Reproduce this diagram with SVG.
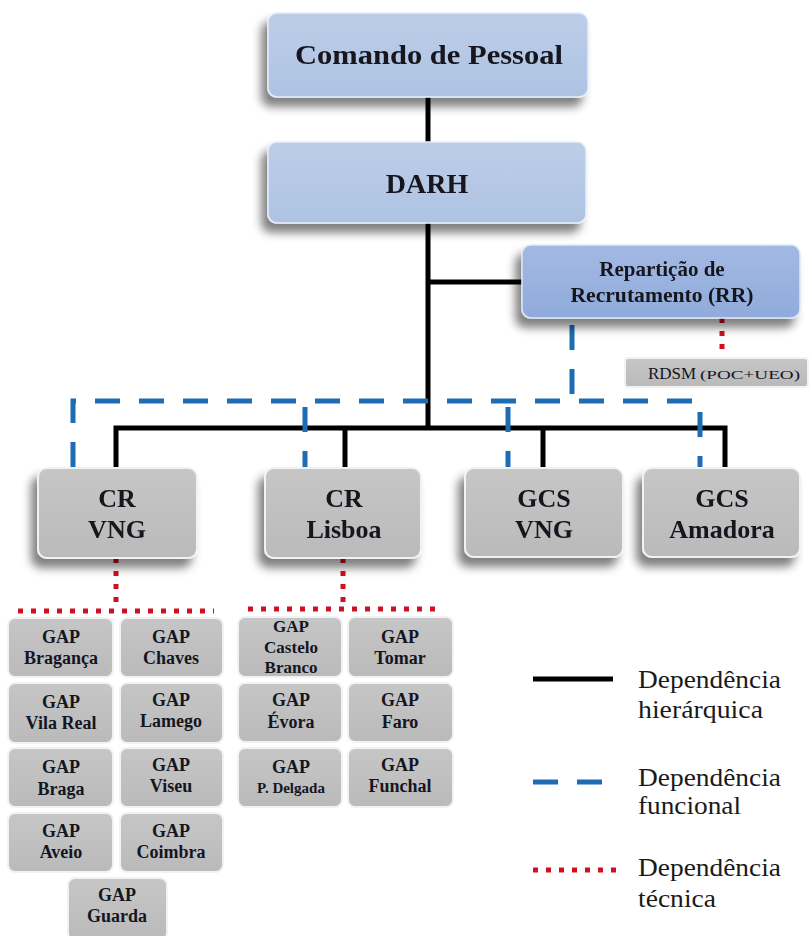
<svg xmlns="http://www.w3.org/2000/svg" width="810" height="936" viewBox="0 0 810 936">
  <style>
    .hier { fill: none; stroke: #000; stroke-width: 5; }
    .func { fill: none; stroke: #1c6db3; stroke-width: 5; stroke-dasharray: 25 19; }
    .tech { fill: none; stroke: #d0101e; stroke-width: 5; stroke-dasharray: 5 8; }
    .blue { fill: url(#gBlue); stroke: #e6eef8; stroke-width: 1.5; }
    .blue2 { fill: url(#gBlue2); stroke: #dde7f5; stroke-width: 1.5; }
    .grey { fill: url(#gGrey); stroke: #f2f2f2; stroke-width: 2; }
  </style>
  <defs>
    <linearGradient id="gBlue" x1="0" y1="0" x2="0" y2="1">
      <stop offset="0" stop-color="#bccde8"/>
      <stop offset="1" stop-color="#aec3e3"/>
    </linearGradient>
    <linearGradient id="gBlue2" x1="0" y1="0" x2="0" y2="1">
      <stop offset="0" stop-color="#a2b9e2"/>
      <stop offset="1" stop-color="#90abdb"/>
    </linearGradient>
    <linearGradient id="gGrey" x1="0" y1="0" x2="0" y2="1">
      <stop offset="0" stop-color="#c6c6c6"/>
      <stop offset="1" stop-color="#bababa"/>
    </linearGradient>
    <filter id="shadow" x="-20%" y="-20%" width="140%" height="160%">
      <feGaussianBlur in="SourceAlpha" stdDeviation="5"/>
      <feOffset dx="-6" dy="9" result="b"/>
      <feComponentTransfer><feFuncA type="linear" slope="0.5"/></feComponentTransfer>
      <feMerge><feMergeNode/><feMergeNode in="SourceGraphic"/></feMerge>
    </filter>
  </defs>

  <rect width="810" height="936" fill="#ffffff"/>

  <!-- connectors -->
  <g id="connectors">
    <path class="hier" d="M428 97 V142"/>
    <path class="hier" d="M428 223 V428"/>
    <path class="hier" d="M428 282 H522"/>
    <path class="hier" d="M116 468 V428 H725 V468"/>
    <path class="hier" d="M345 428 V468"/>
    <path class="hier" d="M543 428 V468"/>

    <path class="func" d="M572 325 V401"/>
    <path class="func" d="M73 467 V401 H700 V467"/>
    <path class="func" d="M305 407 V467"/>
    <path class="func" d="M508 407 V467"/>

    <path class="tech" d="M722 318 V358"/>
    <path class="tech" d="M116 558 V608"/>
    <path class="tech" d="M18 611 H214"/>
    <path class="tech" d="M343 558 V606"/>
    <path class="tech" d="M248 609 H441"/>
  </g>

  <!-- top level -->
  <g id="comando" filter="url(#shadow)">
    <rect class="blue" x="268" y="13" width="320" height="84" rx="9"/>
    <text font-family="Liberation Serif" font-weight="bold" fill="#14161f" text-anchor="middle" x="429" y="64" font-size="28" textLength="268" lengthAdjust="spacingAndGlyphs">Comando de Pessoal</text>
  </g>
  <g id="darh" filter="url(#shadow)">
    <rect class="blue" x="268" y="142" width="318" height="81" rx="9"/>
    <text font-family="Liberation Serif" font-weight="bold" fill="#14161f" text-anchor="middle" x="427" y="193" font-size="28">DARH</text>
  </g>
  <g id="rr" filter="url(#shadow)">
    <rect class="blue2" x="522" y="245" width="278" height="73" rx="9"/>
    <text font-family="Liberation Serif" font-weight="bold" fill="#14161f" text-anchor="middle" x="662" y="276" font-size="21">Reparti&#231;&#227;o de</text>
    <text font-family="Liberation Serif" font-weight="bold" fill="#14161f" text-anchor="middle" x="662" y="302" font-size="21" textLength="183" lengthAdjust="spacingAndGlyphs">Recrutamento (RR)</text>
  </g>
  <g id="rdsm">
    <rect class="grey" x="625" y="358" width="183" height="29" rx="3"/>
    <text font-family="Liberation Serif" fill="#14161f" x="648" y="379" font-size="17">RDSM</text>
    <text font-family="Liberation Serif" fill="#14161f" x="700" y="379" font-size="13" textLength="100" lengthAdjust="spacingAndGlyphs">(POC+UEO)</text>
  </g>

  <!-- second level -->
  <g id="cr-vng" filter="url(#shadow)">
    <rect class="grey" x="38" y="468" width="159" height="90" rx="9"/>
    <text font-family="Liberation Serif" font-weight="bold" fill="#14161f" text-anchor="middle" x="117" y="507" font-size="26">CR</text>
    <text font-family="Liberation Serif" font-weight="bold" fill="#14161f" text-anchor="middle" x="117" y="538" font-size="26">VNG</text>
  </g>
  <g id="cr-lisboa" filter="url(#shadow)">
    <rect class="grey" x="265" y="468" width="156" height="90" rx="9"/>
    <text font-family="Liberation Serif" font-weight="bold" fill="#14161f" text-anchor="middle" x="344" y="507" font-size="26">CR</text>
    <text font-family="Liberation Serif" font-weight="bold" fill="#14161f" text-anchor="middle" x="344" y="538" font-size="26">Lisboa</text>
  </g>
  <g id="gcs-vng" filter="url(#shadow)">
    <rect class="grey" x="465" y="468" width="158" height="89" rx="9"/>
    <text font-family="Liberation Serif" font-weight="bold" fill="#14161f" text-anchor="middle" x="544" y="507" font-size="26">GCS</text>
    <text font-family="Liberation Serif" font-weight="bold" fill="#14161f" text-anchor="middle" x="544" y="538" font-size="26">VNG</text>
  </g>
  <g id="gcs-amadora" filter="url(#shadow)">
    <rect class="grey" x="643" y="468" width="157" height="89" rx="9"/>
    <text font-family="Liberation Serif" font-weight="bold" fill="#14161f" text-anchor="middle" x="722" y="507" font-size="26">GCS</text>
    <text font-family="Liberation Serif" font-weight="bold" fill="#14161f" text-anchor="middle" x="722" y="538" font-size="26">Amadora</text>
  </g>

  <!-- GAP units under CR VNG -->
  <g id="gap-braganca">
    <rect class="grey" x="8" y="618" width="105" height="59" rx="7"/>
    <text font-family="Liberation Serif" font-weight="bold" fill="#14161f" text-anchor="middle" x="61" y="643" font-size="18">GAP</text>
    <text font-family="Liberation Serif" font-weight="bold" fill="#14161f" text-anchor="middle" x="61" y="664" font-size="18">Bragan&#231;a</text>
  </g>
  <g id="gap-chaves">
    <rect class="grey" x="120" y="618" width="103" height="59" rx="7"/>
    <text font-family="Liberation Serif" font-weight="bold" fill="#14161f" text-anchor="middle" x="171" y="643" font-size="18">GAP</text>
    <text font-family="Liberation Serif" font-weight="bold" fill="#14161f" text-anchor="middle" x="171" y="664" font-size="18">Chaves</text>
  </g>
  <g id="gap-vila-real">
    <rect class="grey" x="8" y="683" width="105" height="60" rx="7"/>
    <text font-family="Liberation Serif" font-weight="bold" fill="#14161f" text-anchor="middle" x="61" y="708" font-size="18">GAP</text>
    <text font-family="Liberation Serif" font-weight="bold" fill="#14161f" text-anchor="middle" x="61" y="729" font-size="18">Vila Real</text>
  </g>
  <g id="gap-lamego">
    <rect class="grey" x="120" y="683" width="103" height="60" rx="7"/>
    <text font-family="Liberation Serif" font-weight="bold" fill="#14161f" text-anchor="middle" x="171" y="706" font-size="18">GAP</text>
    <text font-family="Liberation Serif" font-weight="bold" fill="#14161f" text-anchor="middle" x="171" y="727" font-size="18">Lamego</text>
  </g>
  <g id="gap-braga">
    <rect class="grey" x="8" y="748" width="105" height="59" rx="7"/>
    <text font-family="Liberation Serif" font-weight="bold" fill="#14161f" text-anchor="middle" x="61" y="773" font-size="18">GAP</text>
    <text font-family="Liberation Serif" font-weight="bold" fill="#14161f" text-anchor="middle" x="61" y="795" font-size="18">Braga</text>
  </g>
  <g id="gap-viseu">
    <rect class="grey" x="120" y="748" width="103" height="59" rx="7"/>
    <text font-family="Liberation Serif" font-weight="bold" fill="#14161f" text-anchor="middle" x="171" y="771" font-size="18">GAP</text>
    <text font-family="Liberation Serif" font-weight="bold" fill="#14161f" text-anchor="middle" x="171" y="792" font-size="18">Viseu</text>
  </g>
  <g id="gap-aveio">
    <rect class="grey" x="8" y="813" width="105" height="59" rx="7"/>
    <text font-family="Liberation Serif" font-weight="bold" fill="#14161f" text-anchor="middle" x="61" y="837" font-size="18">GAP</text>
    <text font-family="Liberation Serif" font-weight="bold" fill="#14161f" text-anchor="middle" x="61" y="858" font-size="18">Aveio</text>
  </g>
  <g id="gap-coimbra">
    <rect class="grey" x="120" y="813" width="103" height="59" rx="7"/>
    <text font-family="Liberation Serif" font-weight="bold" fill="#14161f" text-anchor="middle" x="171" y="837" font-size="18">GAP</text>
    <text font-family="Liberation Serif" font-weight="bold" fill="#14161f" text-anchor="middle" x="171" y="858" font-size="18">Coimbra</text>
  </g>
  <g id="gap-guarda">
    <rect class="grey" x="68" y="878" width="99" height="62" rx="7"/>
    <text font-family="Liberation Serif" font-weight="bold" fill="#14161f" text-anchor="middle" x="117" y="901" font-size="18">GAP</text>
    <text font-family="Liberation Serif" font-weight="bold" fill="#14161f" text-anchor="middle" x="117" y="922" font-size="18">Guarda</text>
  </g>

  <!-- GAP units under CR Lisboa -->
  <g id="gap-castelo-branco">
    <rect class="grey" x="238" y="617" width="104" height="60" rx="7"/>
    <text font-family="Liberation Serif" font-weight="bold" fill="#14161f" text-anchor="middle" x="291" y="632" font-size="17">GAP</text>
    <text font-family="Liberation Serif" font-weight="bold" fill="#14161f" text-anchor="middle" x="291" y="653" font-size="17">Castelo</text>
    <text font-family="Liberation Serif" font-weight="bold" fill="#14161f" text-anchor="middle" x="291" y="673" font-size="17">Branco</text>
  </g>
  <g id="gap-tomar">
    <rect class="grey" x="348" y="617" width="105" height="60" rx="7"/>
    <text font-family="Liberation Serif" font-weight="bold" fill="#14161f" text-anchor="middle" x="400" y="643" font-size="18">GAP</text>
    <text font-family="Liberation Serif" font-weight="bold" fill="#14161f" text-anchor="middle" x="400" y="664" font-size="18">Tomar</text>
  </g>
  <g id="gap-evora">
    <rect class="grey" x="238" y="683" width="104" height="59" rx="7"/>
    <text font-family="Liberation Serif" font-weight="bold" fill="#14161f" text-anchor="middle" x="291" y="706" font-size="18">GAP</text>
    <text font-family="Liberation Serif" font-weight="bold" fill="#14161f" text-anchor="middle" x="291" y="728" font-size="18">&#201;vora</text>
  </g>
  <g id="gap-faro">
    <rect class="grey" x="348" y="683" width="105" height="59" rx="7"/>
    <text font-family="Liberation Serif" font-weight="bold" fill="#14161f" text-anchor="middle" x="400" y="706" font-size="18">GAP</text>
    <text font-family="Liberation Serif" font-weight="bold" fill="#14161f" text-anchor="middle" x="400" y="728" font-size="18">Faro</text>
  </g>
  <g id="gap-p-delgada">
    <rect class="grey" x="238" y="748" width="104" height="59" rx="7"/>
    <text font-family="Liberation Serif" font-weight="bold" fill="#14161f" text-anchor="middle" x="291" y="773" font-size="18">GAP</text>
    <text font-family="Liberation Serif" font-weight="bold" fill="#14161f" text-anchor="middle" x="291" y="793" font-size="15">P. Delgada</text>
  </g>
  <g id="gap-funchal">
    <rect class="grey" x="348" y="748" width="105" height="59" rx="7"/>
    <text font-family="Liberation Serif" font-weight="bold" fill="#14161f" text-anchor="middle" x="400" y="771" font-size="18">GAP</text>
    <text font-family="Liberation Serif" font-weight="bold" fill="#14161f" text-anchor="middle" x="400" y="792" font-size="18">Funchal</text>
  </g>

  <!-- legend -->
  <g id="legend">
    <path class="hier" d="M533 679 H613"/>
    <text font-family="Liberation Serif" fill="#1a1a1a" font-size="25" x="638" y="688" textLength="143" lengthAdjust="spacingAndGlyphs">Depend&#234;ncia</text>
    <text font-family="Liberation Serif" fill="#1a1a1a" font-size="25" x="638" y="718" textLength="125" lengthAdjust="spacingAndGlyphs">hier&#225;rquica</text>

    <path class="func" d="M533 782 H603" stroke-dasharray="25 20"/>
    <text font-family="Liberation Serif" fill="#1a1a1a" font-size="25" x="638" y="786" textLength="143" lengthAdjust="spacingAndGlyphs">Depend&#234;ncia</text>
    <text font-family="Liberation Serif" fill="#1a1a1a" font-size="25" x="638" y="814" textLength="103" lengthAdjust="spacingAndGlyphs">funcional</text>

    <path class="tech" d="M533 870 H616"/>
    <text font-family="Liberation Serif" fill="#1a1a1a" font-size="25" x="638" y="876" textLength="143" lengthAdjust="spacingAndGlyphs">Depend&#234;ncia</text>
    <text font-family="Liberation Serif" fill="#1a1a1a" font-size="25" x="638" y="907" textLength="78" lengthAdjust="spacingAndGlyphs">t&#233;cnica</text>
  </g>
</svg>
